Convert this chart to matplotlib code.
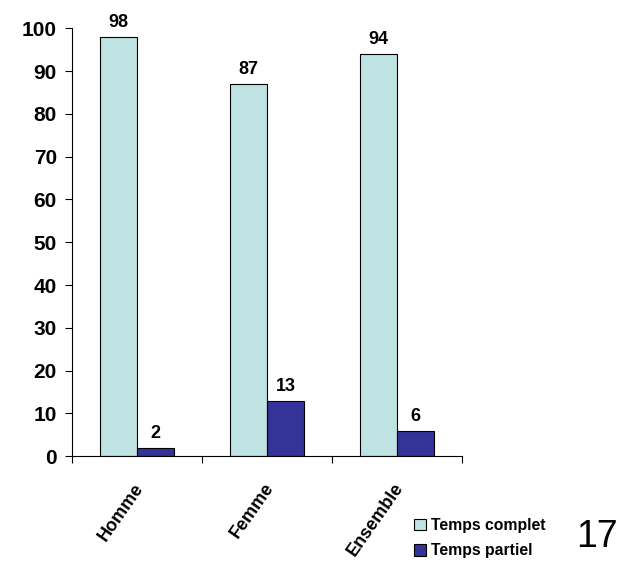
import matplotlib
matplotlib.use("Agg")
import matplotlib.pyplot as plt
import numpy as np

categories = ["Homme", "Femme", "Ensemble"]
temps_complet = [98, 87, 94]
temps_partiel = [2, 13, 6]
series_names = ["Temps complet", "Temps partiel"]
yticks = list(range(0, 101, 10))

plt.rcParams['font.family'] = ['Liberation Sans', 'DejaVu Sans']

fig = plt.figure(figsize=(6.28, 5.64), dpi=100)
ax = fig.add_axes([0.115, 0.191, 0.621, 0.759])

x = np.arange(len(categories))
w = 0.285
b1 = ax.bar(x - w/2, temps_complet, w, color="#BFE3E3", edgecolor="black", linewidth=0.8, label=series_names[0])
b2 = ax.bar(x + w/2, temps_partiel, w, color="#333399", edgecolor="black", linewidth=0.8, label=series_names[1])

for bars, vals in ((b1, temps_complet), (b2, temps_partiel)):
    for r, v in zip(bars, vals):
        ax.annotate(str(v), (r.get_x() + r.get_width()/2, v), xytext=(0, 4),
                    textcoords="offset points", ha="center", va="bottom",
                    fontsize=13, fontweight="bold")

ax.set_xlim(-0.5, 2.5)
ax.set_ylim(0, 100)
ax.set_yticks(yticks)
ax.set_yticklabels([str(t) for t in yticks], fontsize=15, fontweight="bold")
ax.set_xticks([-0.5, 0.5, 1.5, 2.5])
ax.set_xticklabels([])
ax.tick_params(axis="x", length=5, direction="out")
ax.tick_params(axis="y", length=5, direction="out", pad=6)
for i, c in enumerate(categories):
    ax.text(i - 0.03, -5.5, c, rotation=55, ha="right", va="top", fontsize=13,
            fontweight="bold", rotation_mode="anchor", transform=ax.transData)
ax.spines["top"].set_visible(False)
ax.spines["right"].set_visible(False)

fig.legend(handles=[b1, b2], labels=series_names, loc="lower left",
           bbox_to_anchor=(0.637, -0.015), frameon=False,
           prop={"weight": "bold", "size": 11.3}, handlelength=0.75, handleheight=0.75,
           handletextpad=0.35, labelspacing=0.65)
fig.text(0.95, 0.048, "17", fontsize=27, ha="center", va="center")

fig.savefig("out.png", dpi=100)
